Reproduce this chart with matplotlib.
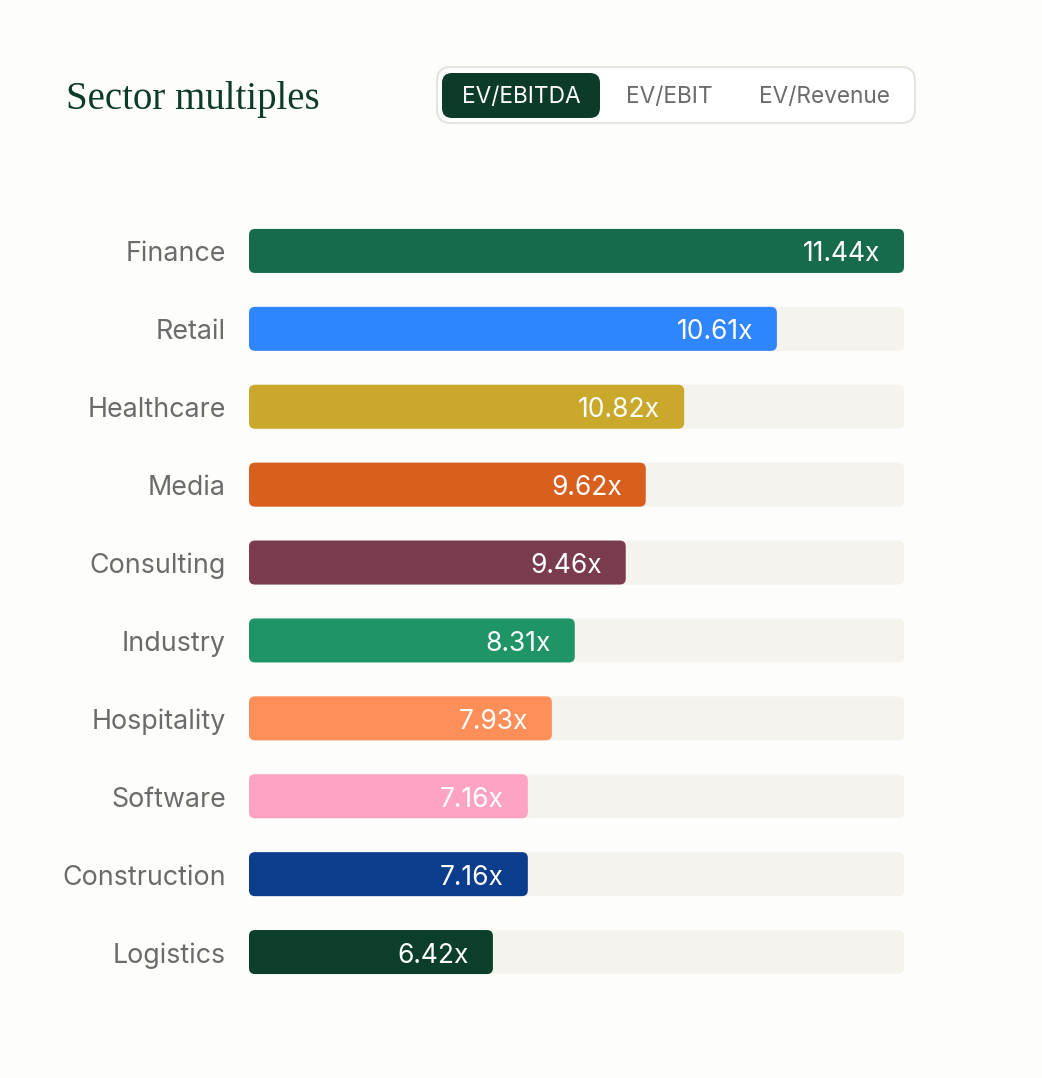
import matplotlib
matplotlib.use("Agg")
import matplotlib.pyplot as plt
from matplotlib.patches import FancyBboxPatch

sectors = ["Finance", "Retail", "Healthcare", "Media", "Consulting",
           "Industry", "Hospitality", "Software", "Construction", "Logistics"]
multiples = [11.44, 10.61, 10.82, 9.62, 9.46, 8.31, 7.93, 7.16, 7.16, 6.42]
# bar lengths as drawn in the picture (mid-animation, so not equal to labels)
bar_lengths = [11.44, 9.22, 7.60, 6.93, 6.58, 5.69, 5.29, 4.87, 4.87, 4.26]
colors = ["#176B4D", "#2F86FF", "#C9A82C", "#D95F1E", "#7A3B4E",
          "#1F9467", "#FF8F58", "#FFA3C4", "#0B3D8C", "#0C3F2A"]
tabs = ["EV/EBITDA", "EV/EBIT", "EV/Revenue"]
tab_x = [521, 669, 824]

bg = "#FDFDFB"
track = "#F4F3EE"
grey = "#6B6B6B"
dark = "#0C3B29"

W, H = 1042, 1078
fig = plt.figure(figsize=(W / 100, H / 100), dpi=100, facecolor=bg)

# overlay in pixel coords for header
top = fig.add_axes([0, 0, 1, 1])
top.set_xlim(0, W)
top.set_ylim(H, 0)
top.axis("off")
top.set_zorder(0)

top.text(66, 99, "Sector multiples", fontsize=28, family="Liberation Serif",
         color=dark, ha="left", va="center")

top.add_patch(FancyBboxPatch((437, 67), 478, 56,
                             boxstyle="round,pad=0,rounding_size=14",
                             facecolor="white", edgecolor="#E4E4DF", linewidth=1.5))
top.add_patch(FancyBboxPatch((442, 73), 158, 45,
                             boxstyle="round,pad=0,rounding_size=10",
                             facecolor=dark, edgecolor="none"))
for i, (t, x) in enumerate(zip(tabs, tab_x)):
    top.text(x, 97, t, fontsize=16.3, family="Inter",
             color="white" if i == 0 else grey, ha="center", va="center")

# bars
ax = fig.add_axes([249 / W, 1 - 991 / H, 655 / W, 779 / H])
ax.set_facecolor("none")
xmax = max(multiples)
ax.set_xlim(0, xmax)
n = len(sectors)
ax.set_ylim(n - 0.5, -0.5)
ax.axis("off")

bh = 0.565
rx = 6 * xmax / 655
ry = 6 / 77.9
for i, (name, val, length, c) in enumerate(zip(sectors, multiples, bar_lengths, colors)):
    ax.add_patch(FancyBboxPatch((0, i - bh / 2), xmax, bh,
                                boxstyle=f"round,pad=0,rounding_size={rx}",
                                mutation_aspect=ry / rx,
                                facecolor=track, edgecolor="none"))
    ax.add_patch(FancyBboxPatch((0, i - bh / 2), length, bh,
                                boxstyle=f"round,pad=0,rounding_size={rx}",
                                mutation_aspect=ry / rx,
                                facecolor=c, edgecolor="none"))
    ax.annotate(f"{val:.2f}x", (length, i), xytext=(-24, -3.5), textcoords="offset pixels",
                ha="right", va="center", fontsize=19, family="Inter", color="white")
    ax.annotate(name, (0, i), xytext=(-23, -3.5), textcoords="offset pixels",
                ha="right", va="center", fontsize=19.3, family="Inter", color=grey,
                annotation_clip=False)

fig.savefig("out.png", dpi=100, facecolor=bg)
